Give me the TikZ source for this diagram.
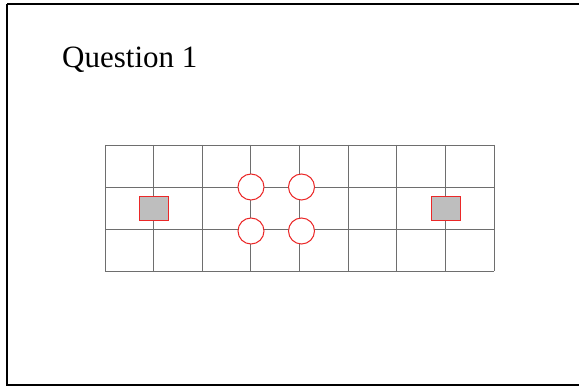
\documentclass[tikz,border=0pt]{standalone}
\usepackage{fontspec}
\setmainfont{Liberation Serif}
\definecolor{gridc}{RGB}{110,110,110}
\definecolor{sqfill}{RGB}{190,190,190}
\definecolor{redc}{RGB}{235,40,40}
\begin{document}
\begin{tikzpicture}[x=1pt,y=-1pt,
  gridline/.style={draw=gridc,line width=0.9pt},
  frameline/.style={draw=black,line width=2pt},
  mark square/.style={draw=redc,fill=sqfill,line width=1pt,minimum width=29pt,minimum height=24pt,inner sep=0pt},
  ring/.style={draw=redc,fill=white,line width=1pt,circle,minimum size=26pt,inner sep=0pt}]
\useasboundingbox (0,0) rectangle (579,387);
\fill[white] (0,0) rectangle (579,387);
\draw[frameline] (7,4) -- (590,4) (7,4) -- (7,385) -- (590,385);
\node[anchor=base west,inner sep=0pt,font=\fontsize{31}{36}\selectfont] (title) at (62,68) {Question 1};
% grid
\foreach \x in {105,153.6,202.3,250.9,299.5,348.1,396.8,445.4,494} {
  \draw[gridline] (\x,145) -- (\x,271);
}
\foreach \y in {145,187,229,271} {
  \draw[gridline] (105,\y) -- (494,\y);
}
\node[mark square] (sqL) at (153.7,208.7) {};
\node[mark square] (sqR) at (446,208.5) {};
\node[ring] (c1) at (251,187) {};
\node[ring] (c2) at (301.5,187) {};
\node[ring] (c3) at (251,231) {};
\node[ring] (c4) at (301.5,231) {};
\end{tikzpicture}
\end{document}
